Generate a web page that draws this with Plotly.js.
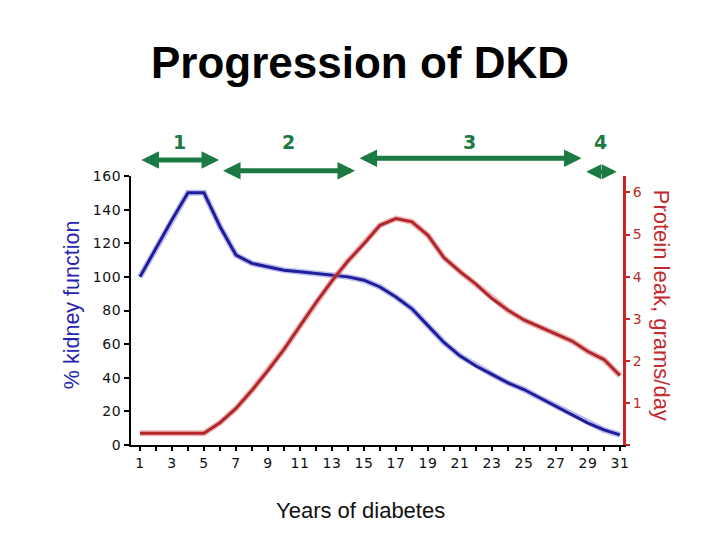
<!DOCTYPE html>
<html>
<head>
<meta charset="utf-8">
<script src="https://cdn.plot.ly/plotly-3.0.1.min.js"></script>
<style>
  html, body { margin: 0; padding: 0; background: #ffffff; }
  #chart { width: 720px; height: 540px; }
  .xtick text, .ytick text, .y2tick text { letter-spacing: 0.6px; }
</style>
</head>
<body>
<div id="chart"></div>
<script>
// ---- data ----
const years = [1,2,3,4,5,6,7,8,9,10,11,12,13,14,15,16,17,18,19,20,21,22,23,24,25,26,27,28,29,30,31];
const kidneyFunction = [100,117,134,150,150,130,113,108,106,104,103,102,101,100,98,94,88,81,71,61,53,47,42,37,33,28,23,18,13,9,6];
const proteinLeak = [0.28,0.28,0.28,0.28,0.28,0.53,0.87,1.3,1.77,2.27,2.83,3.38,3.9,4.37,4.78,5.22,5.38,5.3,4.98,4.45,4.12,3.82,3.48,3.2,2.97,2.8,2.63,2.47,2.22,2.03,1.65];

const stageLabels = ['1','2','3','4'];
const stageStart = [1.0, 6.1, 14.63, 28.8];
const stageEnd = [5.94, 14.44, 28.6, 30.8];

const xTickVals = [1,3,5,7,9,11,13,15,17,19,21,23,25,27,29,31];
const y2TickVals = [0,1,2,3,4,5,6];
const y2TickText = ['','1','2','3','4','5','6'];

// ---- styling ----
const blue = '#1d1d9e';
const red = '#b3262b';
const green = '#1b7a42';
const arrowY = [1.0595, 1.0197, 1.0658, 1.016];
const arrowWidths = [5, 5, 5, 4];
const arrowSizes = [0.7, 0.7, 0.7, 0.75];

const traces = [
  {x: years, y: kidneyFunction, type: 'scatter', mode: 'lines', yaxis: 'y',
   line: {color: 'rgba(110,110,210,0.45)', width: 6}, hoverinfo: 'skip', showlegend: false},
  {x: years, y: kidneyFunction, type: 'scatter', mode: 'lines', yaxis: 'y', name: '% kidney function',
   line: {color: blue, width: 3}, showlegend: false},
  {x: years, y: proteinLeak, type: 'scatter', mode: 'lines', yaxis: 'y2',
   line: {color: 'rgba(210,100,100,0.45)', width: 6}, hoverinfo: 'skip', showlegend: false},
  {x: years, y: proteinLeak, type: 'scatter', mode: 'lines', yaxis: 'y2', name: 'Protein leak, grams/day',
   line: {color: red, width: 3}, showlegend: false}
];

const annotations = [];
stageLabels.forEach((lab, i) => {
  annotations.push({
    xref: 'x', yref: 'paper', axref: 'x', ayref: 'pixel',
    x: stageEnd[i], y: arrowY[i], ax: stageStart[i], ay: 0,
    text: '', showarrow: true, arrowside: 'end+start', arrowhead: 2,
    arrowsize: arrowSizes[i], arrowwidth: arrowWidths[i], arrowcolor: green, standoff: 0, startstandoff: 0
  });
  annotations.push({
    xref: 'x', yref: 'paper', x: (stageStart[i] + stageEnd[i]) / 2, y: 1.1275,
    text: '<b>' + lab + '</b>', showarrow: false, xanchor: 'center', yanchor: 'middle',
    font: {family: 'DejaVu Sans', size: 19, color: green}
  });
});
annotations.push({
  xref: 'paper', yref: 'paper', x: 1.08, y: 0.52, text: 'Protein leak, grams/day',
  textangle: 90, showarrow: false, xanchor: 'center', yanchor: 'middle',
  font: {family: 'Liberation Sans', size: 22, color: '#c42a2d'}
});
annotations.push({
  xref: 'paper', yref: 'paper', x: -0.1199, y: 0.52, text: '% kidney function',
  textangle: -90, showarrow: false, xanchor: 'center', yanchor: 'middle',
  font: {family: 'Liberation Sans', size: 21.5, color: '#2424b0'}
});
annotations.push({
  xref: 'paper', yref: 'paper', x: 0.467, y: -0.242, text: 'Years of diabetes',
  showarrow: false, xanchor: 'center', yanchor: 'middle',
  font: {family: 'Liberation Sans', size: 22, color: '#111'}
});

const layout = {
  width: 720, height: 540,
  margin: {l: 131, r: 97, t: 176, b: 95},
  paper_bgcolor: '#ffffff', plot_bgcolor: '#ffffff',
  font: {family: 'DejaVu Sans', size: 14, color: '#111111'},
  title: {text: '<b>Progression of DKD</b>', x: 0.5, xref: 'container', y: 0.885, yref: 'container',
          xanchor: 'center', yanchor: 'middle',
          font: {family: 'Liberation Sans', size: 44, color: '#000000'}},
  xaxis: {
    range: [0.44, 31.19], tickvals: xTickVals, ticks: 'outside', ticklen: 4, tickwidth: 2,
    tickcolor: '#000', showline: true, linecolor: '#000', linewidth: 2, showgrid: false, zeroline: false,
    minor: {dtick: 1, tick0: 0, ticks: 'outside', ticklen: 4, tickwidth: 2, tickcolor: '#000', showgrid: false},
    tickfont: {family: 'DejaVu Sans', size: 14, color: '#111'},
    fixedrange: true
  },
  yaxis: {
    range: [0, 160], dtick: 20, ticks: 'outside', ticklen: 5, tickwidth: 2, tickcolor: '#000',
    showline: true, linecolor: '#000', linewidth: 2, showgrid: false, zeroline: false,
    tickfont: {family: 'DejaVu Sans', size: 14, color: '#111'},
    fixedrange: true
  },
  yaxis2: {
    overlaying: 'y', side: 'right', anchor: 'x', range: [0, 6.39],
    tickvals: y2TickVals, ticktext: y2TickText, ticks: 'outside', ticklen: 4, tickwidth: 2,
    tickcolor: '#cc2222', showline: true, linecolor: '#cc2222', linewidth: 3, showgrid: false, zeroline: false,
    tickfont: {family: 'DejaVu Sans', size: 14, color: '#b03030'}, fixedrange: true
  },
  annotations: annotations,
  showlegend: false
};

Plotly.newPlot('chart', traces, layout, {displayModeBar: false, staticPlot: true});
</script>
</body>
</html>
